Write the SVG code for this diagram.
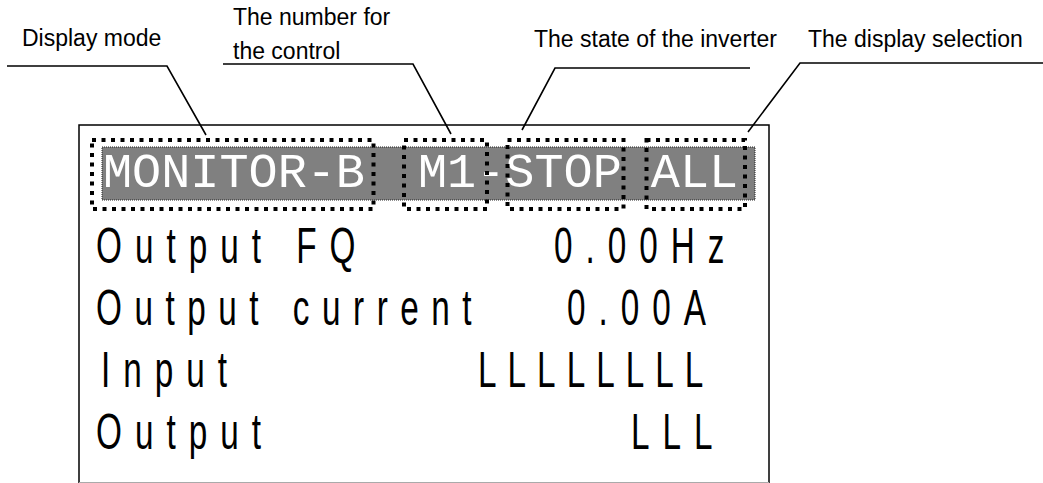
<svg xmlns="http://www.w3.org/2000/svg" width="1043" height="483" viewBox="0 0 1043 483">
  <style>
    .lbl { font-family: "Liberation Sans", Arial, sans-serif; font-size: 23px; fill: #000; }
    .lead { fill: none; stroke: #000; stroke-width: 1.6; }
    .dots { fill: none; stroke: #000; stroke-width: 4; stroke-dasharray: 4 5.5; }
    .lcd { font-family: "Liberation Mono", "Courier New", monospace; font-size: 48.5px; fill: #fff; }
    .body { font-family: "Liberation Sans", Arial, sans-serif; font-size: 49px; fill: #000; letter-spacing: 19.1px; }
  </style>
  <rect width="1043" height="483" fill="#fff"/>

  <g id="display-frame">
    <rect x="79" y="125" width="690" height="360" fill="#fff" stroke="#000" stroke-width="1.5"/>
    <line x1="79" y1="482.5" x2="769" y2="482.5" stroke="#aaa" stroke-width="1"/>
  </g>

  <g id="header-bar">
    <rect x="102" y="147" width="653" height="53" fill="#808080" stroke="#222" stroke-width="1" stroke-dasharray="1 1"/>
    <text class="lcd" x="103" y="187">MONITOR-B</text>
    <text class="lcd" x="418" y="187">M1-STOP ALL</text>
  </g>

  <g id="box-mode"><rect class="dots" x="92" y="140" width="281.5" height="69"/></g>
  <g id="box-number"><rect class="dots" x="404" y="140" width="83" height="69"/></g>
  <g id="box-state"><rect class="dots" x="507.5" y="140" width="116" height="69"/></g>
  <g id="box-selection"><rect class="dots" x="646.5" y="140" width="98.5" height="69"/></g>

  <g id="body-lines">
    <text class="body" transform="translate(96,263) scale(0.68,1)">Output FQ</text>
    <text class="body" transform="translate(554,263) scale(0.68,1)">0.00Hz</text>
    <text class="body" transform="translate(96,325) scale(0.68,1)" style="letter-spacing:18.4px">Output current</text>
    <text class="body" transform="translate(567,325) scale(0.68,1)">0.00A</text>
    <text class="body" transform="translate(101,387) scale(0.68,1)">Input</text>
    <text class="body" transform="translate(478,387) scale(0.68,1)" style="letter-spacing:16.2px">LLLLLLLL</text>
    <text class="body" transform="translate(96,449) scale(0.68,1)">Output</text>
    <text class="body" transform="translate(631,449) scale(0.68,1)">LLL</text>
  </g>

  <g id="label-mode"><text class="lbl" x="22" y="46">Display mode</text></g>
  <g id="label-number">
    <text class="lbl" x="233" y="25">The number for</text>
    <text class="lbl" x="233" y="59">the control</text>
  </g>
  <g id="label-state"><text class="lbl" x="534" y="47">The state of the inverter</text></g>
  <g id="label-selection"><text class="lbl" x="808" y="47">The display selection</text></g>

  <g id="connectors">
    <polyline class="lead" points="7,66 167,66 206,135"/>
    <polyline class="lead" points="223,64 413,64 451,134"/>
    <polyline class="lead" points="750,68 555,68 522,130"/>
    <polyline class="lead" points="1043,63 800,63 748,132"/>
  </g>
</svg>
